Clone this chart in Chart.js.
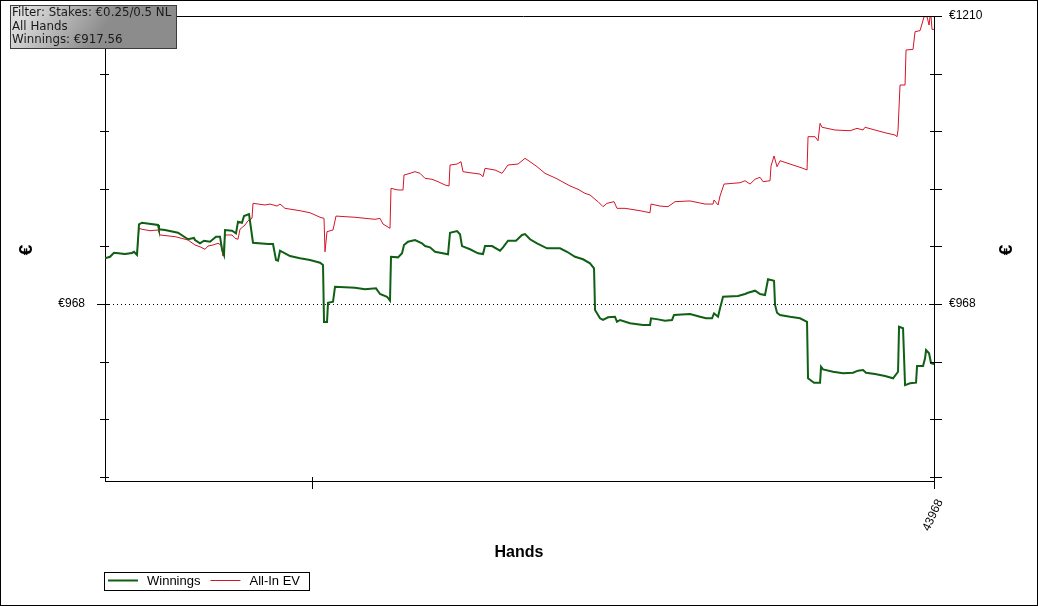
<!DOCTYPE html>
<html lang="en">
<head>
    <meta charset="UTF-8">
    <title>Winnings / All-In EV</title>
    <script src="https://cdn.jsdelivr.net/npm/chart.js"></script>
    <style>
        html, body { margin: 0; padding: 0; background: #fff; }
        canvas { display: block; }
    </style>
</head>
<body>
    <canvas id="myChart" width="1038" height="606"></canvas>
    <script>
        // hands played / cumulative euros
        const winHands = [
            0, 265, 477, 1061, 1432, 1538, 1697, 1803, 1962, 2811,
            2864, 3182, 3872, 4402, 4721, 4774, 5039, 5251, 5569, 5887,
            6100, 6206, 6312, 6365, 6736, 6948, 7054, 7266, 7373, 7638,
            7850, 8646, 8911, 9070, 9176, 9282, 9547, 9812, 10343, 10873,
            11404, 11563, 11616, 11775, 11828, 12093, 12199, 13260, 13790, 14374,
            14586, 14957, 15116, 15169, 15541, 15753, 15859, 16071, 16442, 16814,
            16973, 17238, 17503, 18193, 18299, 18670, 18829, 18935, 19360, 19784,
            20049, 20155, 20526, 20951, 21110, 21375, 21799, 22118, 22277, 22542,
            22913, 23444, 24133, 24504, 24929, 25353, 25724, 25937, 25990, 26255,
            26414, 26679, 27050, 27156, 27316, 27846, 28536, 28907, 28960, 29331,
            29702, 30074, 30180, 31028, 31559, 31877, 32195, 32301, 32514, 32620,
            32779, 33574, 33946, 34105, 34476, 34741, 35006, 35166, 35484, 35537,
            35643, 35802, 36332, 36863, 37234, 37287, 37605, 37924, 37977, 38083,
            38613, 39144, 39674, 39939, 40204, 40363, 40841, 41371, 41796, 42061,
            42114, 42326, 42432, 42697, 43015, 43069, 43387, 43493, 43546, 43705,
            43811, 43968
        ];
        const winEuro = [
            1006.4, 1007.7, 1011.1, 1010.0, 1010.9, 1011.9, 1009.2, 1035.0, 1036.3, 1034.4,
            1030.8, 1030.2, 1027.9, 1022.4, 1023.5, 1021.8, 1019.0, 1021.2, 1020.4, 1024.6,
            1024.6, 1014.0, 1009.2, 1030.2, 1029.6, 1027.4, 1037.2, 1036.3, 1041.9, 1043.6,
            1019.5, 1018.4, 1018.4, 1005.0, 1004.4, 1012.8, 1010.6, 1008.3, 1006.4, 1005.0,
            1002.7, 1000.8, 952.9, 952.9, 969.1, 969.9, 982.5, 981.7, 980.4, 981.2,
            976.4, 974.1, 970.8, 1007.7, 1007.2, 1010.6, 1017.6, 1020.4, 1021.8, 1019.0,
            1016.7, 1015.6, 1011.9, 1009.8, 1027.9, 1029.3, 1026.6, 1016.7, 1014.0, 1010.6,
            1010.0, 1016.7, 1016.7, 1012.8, 1015.6, 1021.2, 1021.2, 1026.0, 1026.8, 1022.4,
            1019.0, 1014.8, 1014.8, 1011.9, 1007.7, 1005.6, 1002.2, 998.0, 963.0, 956.0,
            954.6, 956.8, 957.3, 953.1, 954.6, 951.8, 950.4, 950.4, 956.0, 955.1,
            954.0, 954.6, 958.8, 959.6, 957.3, 956.0, 956.0, 960.2, 957.3, 964.4,
            974.1, 974.7, 976.4, 977.5, 979.2, 976.4, 975.6, 988.8, 987.6, 967.2,
            960.7, 958.8, 957.3, 956.0, 953.1, 905.6, 901.9, 901.9, 915.3, 913.1,
            911.1, 909.8, 910.3, 912.0, 912.5, 910.3, 909.2, 907.5, 905.6, 911.1,
            948.9, 947.6, 899.9, 901.4, 901.9, 915.9, 915.9, 922.4, 929.3, 926.6,
            918.2, 917.56
        ];
        const evHands = [
            0, 265, 477, 1061, 1432, 1538, 1697, 1803, 1962, 2387,
            2811, 2917, 3713, 4402, 4774, 5039, 5304, 5463, 5728, 5994,
            6153, 6259, 6365, 6736, 6895, 7054, 7160, 7426, 7585, 7797,
            7850, 8486, 8752, 9123, 9282, 9547, 10343, 10873, 11404, 11616,
            11669, 11775, 12093, 12252, 12730, 13260, 13790, 14321, 14586, 14745,
            15116, 15169, 15541, 15806, 15859, 16177, 16442, 16708, 16973, 17344,
            17662, 18034, 18246, 18299, 18670, 18882, 18988, 19360, 19890, 20049,
            20155, 20686, 21057, 21375, 21905, 22277, 22542, 22913, 23338, 23921,
            24664, 25088, 25459, 25724, 25990, 26149, 26414, 26626, 26998, 27156,
            27581, 28376, 28907, 28960, 29437, 29861, 30233, 31028, 31824, 32248,
            32301, 32514, 32620, 32832, 33680, 33946, 34211, 34476, 34741, 34900,
            35272, 35325, 35484, 35643, 35802, 36332, 37022, 37234, 37287, 37658,
            37818, 37924, 38030, 38719, 39515, 39886, 40204, 40310, 40841, 41371,
            41902, 42008, 42061, 42167, 42432, 42485, 42856, 42962, 43228, 43440,
            43599, 43705, 43758, 43811, 43864, 43968
        ];
        const evEuro = [
            1006.4, 1007.7, 1011.1, 1010.0, 1010.9, 1011.9, 1009.2, 1031.6, 1030.8, 1029.6,
            1030.2, 1026.0, 1024.6, 1021.8, 1017.6, 1016.1, 1014.0, 1016.7, 1017.6, 1019.0,
            1017.6, 1008.3, 1026.0, 1026.0, 1023.2, 1022.4, 1030.8, 1034.4, 1038.0, 1040.0,
            1052.6, 1051.2, 1052.0, 1050.3, 1052.0, 1048.4, 1046.4, 1044.7, 1040.9, 1040.0,
            1011.9, 1028.8, 1030.2, 1041.9, 1041.4, 1040.9, 1040.0, 1039.2, 1040.0, 1035.2,
            1031.6, 1065.2, 1063.8, 1063.8, 1076.4, 1077.8, 1079.2, 1077.8, 1073.6, 1072.8,
            1070.8, 1068.0, 1067.2, 1084.8, 1085.6, 1087.6, 1079.2, 1078.3, 1077.2, 1075.0,
            1082.0, 1080.6, 1077.8, 1084.8, 1085.6, 1090.4, 1087.6, 1083.4, 1077.8, 1073.6,
            1067.2, 1064.4, 1061.0, 1059.6, 1056.0, 1054.0, 1049.8, 1052.6, 1054.0, 1048.4,
            1048.4, 1046.4, 1044.7, 1052.0, 1050.3, 1049.8, 1054.0, 1054.6, 1052.0, 1052.0,
            1055.4, 1051.2, 1058.8, 1068.8, 1069.9, 1071.6, 1068.8, 1072.8, 1074.5, 1070.8,
            1071.6, 1084.0, 1092.4, 1083.4, 1088.4, 1085.6, 1082.0, 1080.6, 1108.6, 1108.6,
            1105.2, 1119.8, 1116.5, 1114.2, 1113.6, 1115.6, 1114.2, 1116.5, 1114.2, 1111.9,
            1110.0, 1108.6, 1114.2, 1152.0, 1152.0, 1181.4, 1182.0, 1196.8, 1197.7, 1209.4,
            1209.4, 1202.4, 1209.4, 1209.4, 1198.8, 1198.8
        ];

        // axis ticks
        const yTicks = [822.8, 871.2, 919.6, 968, 1016.4, 1064.8, 1113.2, 1161.6, 1210];
        const yLabelsLeft = [968];
        const yLabelsRight = [968, 1210];
        const xTicks = [11000, 43968];
        const xLabels = [43968];
        const yMin = 819.3;
        const yMax = 1210;

        const filterLines = ['Filter: Stakes: €0.25/0.5 NL', 'All Hands', 'Winnings: €917.56'];

        function toPoints(xs, ys) {
            let pts = [];
            for (let i = 0; i < Math.min(xs.length, ys.length); i++) {
                pts.push({x: xs[i], y: ys[i]});
            }
            return pts;
        }

        function euro(v) {
            return '€' + Math.round(v);
        }

        const FONT = '"Liberation Sans", Arial, sans-serif';

        // frame, crossing tick marks, dotted break-even line, legend, filter box
        const decorations = {
            id: 'decorations',
            beforeDatasetsDraw(chart) {
                const ctx = chart.ctx;
                const a = chart.chartArea;
                const y = chart.scales.y.getPixelForValue(968);
                ctx.save();
                ctx.strokeStyle = '#000';
                ctx.lineWidth = 1;
                ctx.setLineDash([1, 3]);
                ctx.beginPath();
                ctx.moveTo(a.left, Math.round(y) + 0.5);
                ctx.lineTo(a.right, Math.round(y) + 0.5);
                ctx.stroke();
                ctx.restore();
            },
            afterDraw(chart) {
                const ctx = chart.ctx;
                const a = chart.chartArea;
                const ys = chart.scales.y;
                const xs = chart.scales.x;
                ctx.save();
                ctx.strokeStyle = '#000';
                ctx.lineWidth = 1;

                // top line
                ctx.beginPath();
                ctx.moveTo(a.left, a.top + 0.5);
                ctx.lineTo(a.right + 8, a.top + 0.5);
                ctx.stroke();

                // y tick marks on both sides
                ctx.beginPath();
                yTicks.forEach(v => {
                    const py = Math.round(ys.getPixelForValue(v)) + 0.5;
                    const outL = v === 968 ? 8 : 5;
                    ctx.moveTo(a.left - outL, py);
                    ctx.lineTo(a.left + 4, py);
                    ctx.moveTo(a.right - 4, py);
                    ctx.lineTo(a.right + 8, py);
                });
                // x tick marks
                xTicks.forEach(v => {
                    const px = Math.round(xs.getPixelForValue(v)) + 0.5;
                    ctx.moveTo(px, a.bottom - 4);
                    ctx.lineTo(px, a.bottom + 8);
                });
                ctx.stroke();

                // y titles, both turned to the left
                ctx.fillStyle = '#000';
                ctx.font = 'bold 19px ' + FONT;
                ctx.textAlign = 'center';
                ctx.textBaseline = 'middle';
                [27, 1007].forEach(tx => {
                    ctx.save();
                    ctx.translate(tx, 250);
                    ctx.rotate(-Math.PI / 2);
                    ctx.fillText('€', 0, 0);
                    ctx.restore();
                });
                ctx.font = 'bold 16px ' + FONT;
                ctx.fillText('Hands', 519, 553);

                // legend
                ctx.strokeRect(104.5, 572.5, 205, 18);
                ctx.font = '13px ' + FONT;
                ctx.textAlign = 'left';
                let lx = 108;
                chart.data.datasets.forEach(ds => {
                    ctx.strokeStyle = ds.borderColor;
                    ctx.lineWidth = ds.borderWidth;
                    ctx.beginPath();
                    ctx.moveTo(lx, 580.5);
                    ctx.lineTo(lx + 30, 580.5);
                    ctx.stroke();
                    ctx.fillStyle = '#000';
                    ctx.fillText(ds.label, lx + 39, 581);
                    lx += 39 + ctx.measureText(ds.label).width + 10;
                });

                // filter box
                const g = ctx.createLinearGradient(30, 5, 90, 48);
                g.addColorStop(0, '#dcdcdc');
                g.addColorStop(1, '#8c8c8c');
                ctx.fillStyle = g;
                ctx.fillRect(10, 5, 166, 43);
                ctx.strokeStyle = '#3c3c3c';
                ctx.lineWidth = 1;
                ctx.strokeRect(10.5, 5.5, 166, 43);
                ctx.fillStyle = '#1a1a1a';
                ctx.font = '11.8px "DejaVu Sans", sans-serif';
                filterLines.forEach((t, i) => ctx.fillText(t, 12, 13 + i * 13.5));

                // outer border
                ctx.strokeStyle = '#000';
                ctx.strokeRect(0.5, 0.5, chart.width - 1, chart.height - 1);
                ctx.restore();
            }
        };

        const ctx = document.getElementById('myChart').getContext('2d');
        const myChart = new Chart(ctx, {
            type: 'line',
            data: {
                datasets: [{
                    label: 'Winnings',
                    data: toPoints(winHands, winEuro),
                    borderColor: '#0f5f14',
                    borderWidth: 2,
                    yAxisID: 'y'
                }, {
                    label: 'All-In EV',
                    data: toPoints(evHands, evEuro),
                    borderColor: '#d41428',
                    borderWidth: 1,
                    yAxisID: 'y'
                }]
            },
            plugins: [decorations],
            options: {
                responsive: false,
                devicePixelRatio: 1,
                animation: false,
                elements: {
                    point: { radius: 0 },
                    line: { tension: 0 }
                },
                layout: { padding: { top: 16, left: 0, right: 0, bottom: 0 } },
                plugins: {
                    legend: { display: false },
                    tooltip: { enabled: false }
                },
                scales: {
                    x: {
                        type: 'linear',
                        min: 0,
                        max: 43968,
                        grid: { display: false },
                        border: { display: true, color: '#000', width: 1 },
                        afterBuildTicks: s => { s.ticks = xTicks.map(v => ({value: v})); },
                        afterFit: s => { s.height = 125; },
                        ticks: {
                            autoSkip: false,
                            minRotation: 65,
                            maxRotation: 65,
                            padding: 8,
                            labelOffset: 6,
                            color: '#000',
                            font: { family: FONT, size: 12 },
                            callback: v => xLabels.includes(v) ? String(v) : ''
                        }
                    },
                    y: {
                        position: 'left',
                        min: yMin,
                        max: yMax,
                        grid: { display: false },
                        border: { display: true, color: '#000', width: 1 },
                        afterBuildTicks: s => { s.ticks = yTicks.map(v => ({value: v})); },
                        afterFit: s => { s.width = 105; },
                        ticks: {
                            autoSkip: false,
                            padding: 12,
                            color: '#000',
                            font: { family: FONT, size: 12, lineHeight: 0.3 },
                            callback: v => yLabelsLeft.includes(v) ? euro(v) : ''
                        }
                    },
                    y2: {
                        position: 'right',
                        min: yMin,
                        max: yMax,
                        grid: { display: false },
                        border: { display: true, color: '#000', width: 1 },
                        afterBuildTicks: s => { s.ticks = yTicks.map(v => ({value: v})); },
                        afterFit: s => { s.width = 104; },
                        ticks: {
                            autoSkip: false,
                            padding: 7,
                            color: '#000',
                            font: { family: FONT, size: 12, lineHeight: 0.3 },
                            callback: v => yLabelsRight.includes(v) ? euro(v) : ''
                        }
                    }
                }
            }
        });
    </script>
</body>
</html>
